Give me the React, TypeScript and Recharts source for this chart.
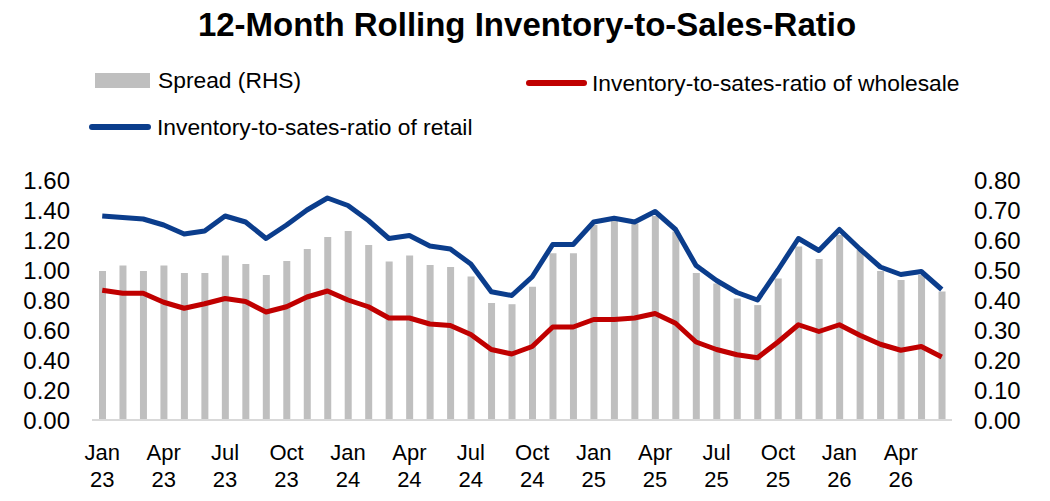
import { ComposedChart, Bar, Line, XAxis, YAxis } from "recharts";

const months = [
  "Jan 23", "Feb 23", "Mar 23", "Apr 23", "May 23", "Jun 23", "Jul 23", "Aug 23", "Sep 23", "Oct 23", "Nov 23", "Dec 23",
  "Jan 24", "Feb 24", "Mar 24", "Apr 24", "May 24", "Jun 24", "Jul 24", "Aug 24", "Sep 24", "Oct 24", "Nov 24", "Dec 24",
  "Jan 25", "Feb 25", "Mar 25", "Apr 25", "May 25", "Jun 25", "Jul 25", "Aug 25", "Sep 25", "Oct 25", "Nov 25", "Dec 25",
  "Jan 26", "Feb 26", "Mar 26", "Apr 26", "May 26", "Jun 26",
];

const retail = [
  1.36, 1.35, 1.34, 1.3, 1.24, 1.26, 1.36, 1.32, 1.21, 1.3, 1.4, 1.48,
  1.43, 1.33, 1.21, 1.23, 1.16, 1.14, 1.04, 0.855, 0.83, 0.955, 1.17, 1.17,
  1.32, 1.345, 1.32, 1.39, 1.27, 1.03, 0.93, 0.85, 0.8, 1.0, 1.21, 1.13,
  1.27, 1.14, 1.02, 0.97, 0.99, 0.87,
];

const wholesale = [
  0.865, 0.845, 0.845, 0.785, 0.745, 0.775, 0.81, 0.79, 0.72, 0.755, 0.82, 0.86,
  0.8, 0.755, 0.68, 0.68, 0.64, 0.63, 0.57, 0.47, 0.44, 0.49, 0.62, 0.62,
  0.67, 0.67, 0.68, 0.71, 0.645, 0.52, 0.47, 0.435, 0.415, 0.52, 0.635, 0.59,
  0.635, 0.565, 0.505, 0.465, 0.49, 0.42,
];

const spread = [
  0.497, 0.515, 0.497, 0.515, 0.49, 0.49, 0.548, 0.52, 0.483, 0.53, 0.57, 0.61,
  0.63, 0.583, 0.528, 0.548, 0.517, 0.51, 0.478, 0.39, 0.386, 0.444, 0.556, 0.556,
  0.65, 0.67, 0.655, 0.68, 0.628, 0.49, 0.455, 0.405, 0.383, 0.472, 0.578, 0.537,
  0.617, 0.567, 0.497, 0.467, 0.483, 0.428,
];

const leftTicks = [0, 0.2, 0.4, 0.6, 0.8, 1.0, 1.2, 1.4, 1.6];
const rightTicks = [0, 0.1, 0.2, 0.3, 0.4, 0.5, 0.6, 0.7, 0.8];

const data = months.map((m, i) => ({
  month: m,
  retail: retail[i],
  wholesale: wholesale[i],
  spread: spread[i],
}));

const FONT = '"Liberation Sans", Arial, sans-serif';
const BLUE = "#0b3d8c";
const RED = "#c00000";
const GREY = "#bfbfbf";

const MonthTick = (props: any) => {
  const { x, y, payload } = props;
  const [mon, yr] = String(payload.value).split(" ");
  return (
    <text x={x} y={y} textAnchor="middle" fontSize={22} fontFamily={FONT} fill="#000">
      <tspan x={x} dy={40}>{mon}</tspan>
      <tspan x={x} dy={27}>{yr}</tspan>
    </text>
  );
};

export default function App() {
  return (
    <div style={{ position: "absolute", left: 0, top: 0, width: 1050, height: 501, background: "#fff" }}>
      <svg width={1050} height={150} style={{ position: "absolute", left: 0, top: 0 }} fontFamily={FONT}>
        <text x={527} y={36} textAnchor="middle" fontSize={33} fontWeight="bold" fill="#000">
          12-Month Rolling Inventory-to-Sales-Ratio
        </text>
        <rect x={95} y={73} width={55} height={15} fill={GREY} />
        <text x={158} y={88} fontSize={22.8} fill="#000">Spread (RHS)</text>
        <line x1={529} y1={83} x2={584} y2={83} stroke={RED} strokeWidth={6} strokeLinecap="round" />
        <text x={592} y={91} fontSize={22.8} fill="#000">Inventory-to-sates-ratio of wholesale</text>
        <line x1={92} y1={127} x2={148} y2={127} stroke={BLUE} strokeWidth={6} strokeLinecap="round" />
        <text x={157} y={135} fontSize={22.8} fill="#000">Inventory-to-sates-ratio of retail</text>
      </svg>
      <div style={{ position: "absolute", left: 0, top: 0 }}>
        <ComposedChart width={1050} height={501} data={data} margin={{ top: 180, right: 0, left: 0, bottom: 21 }}>
          <XAxis
            dataKey="month"
            interval={2}
            tick={<MonthTick />}
            tickLine={false}
            tickSize={0}
            tickMargin={0}
            height={60}
            axisLine={{ stroke: "#d9d9d9", strokeWidth: 2 }}
          />
          <YAxis
            yAxisId="left"
            domain={[0, 1.6]}
            ticks={leftTicks}
            interval={0}
            tickFormatter={(v: number) => v.toFixed(2)}
            width={92}
            axisLine={false}
            tickLine={false}
            tickSize={0}
            tickMargin={22}
            tick={{ fontSize: 24, fontFamily: FONT, fill: "#000" }}
          />
          <YAxis
            yAxisId="right"
            orientation="right"
            domain={[0, 0.8]}
            ticks={rightTicks}
            interval={0}
            tickFormatter={(v: number) => v.toFixed(2)}
            width={98}
            axisLine={false}
            tickLine={false}
            tickSize={0}
            tickMargin={22}
            tick={{ fontSize: 24, fontFamily: FONT, fill: "#000", textAnchor: "start" }}
          />
          <Bar yAxisId="right" dataKey="spread" fill={GREY} barSize={7} isAnimationActive={false} />
          <Line
            yAxisId="left"
            type="linear"
            dataKey="wholesale"
            stroke={RED}
            strokeWidth={5}
            dot={false}
            strokeLinejoin="round"
            isAnimationActive={false}
          />
          <Line
            yAxisId="left"
            type="linear"
            dataKey="retail"
            stroke={BLUE}
            strokeWidth={5}
            dot={false}
            strokeLinejoin="round"
            isAnimationActive={false}
          />
        </ComposedChart>
      </div>
    </div>
  );
}
